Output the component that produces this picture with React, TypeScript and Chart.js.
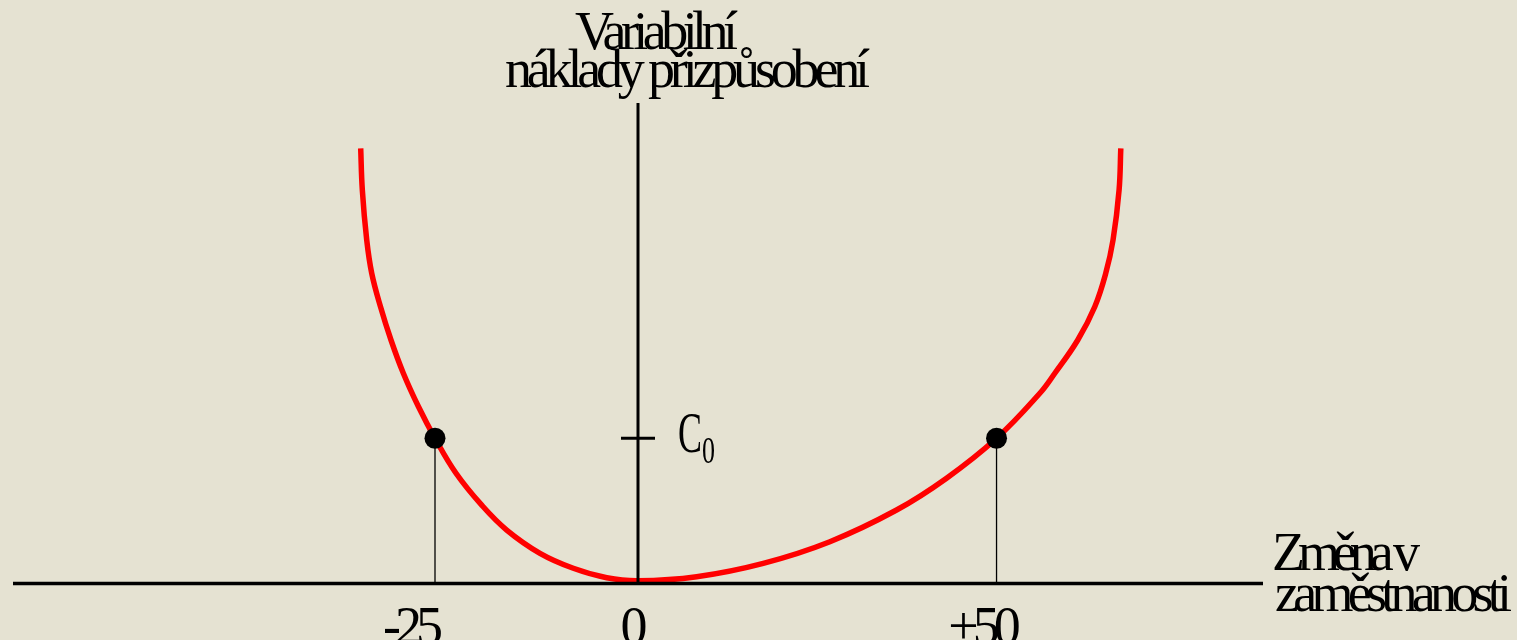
import React, { useEffect, useRef } from 'react';
import { Chart, registerables, LinearScale } from 'chart.js';

// ---- data (x: change in employment, y: variable adjustment costs, C0 = 1) ----
const leftBranchX = [-34.15, -33.95, -33.41, -32.79, -31.71, -30.42, -28.9, -27.03, -25, -22.41, -19.27, -16.17, -12.07, -7.97, -3.85, 0];
const leftBranchY = [2.997, 2.71, 2.366, 2.136, 1.906, 1.677, 1.448, 1.217, 1.0, 0.759, 0.541, 0.368, 0.208, 0.105, 0.04, 0.019];
const rightBranchX = [8.18, 17.47, 26.76, 36.06, 43.03, 50, 56.04, 58.13, 61.33, 63.7, 65.23, 66.25, 67.09, 67.33];
const rightBranchY = [0.047, 0.139, 0.288, 0.506, 0.725, 1.0, 1.31, 1.448, 1.677, 1.906, 2.136, 2.366, 2.71, 2.997];
const markerX = [-25, 50];
const markerY = [1, 1];
const xTickValues = [-25, 0, 50];
const xTickLabels = ['-25', '0', '+50'];
const yTickValue = 1;
const yTickLabel = 'C';
const yTickSub = '0';
const yTitleLines = ['Variabilní', 'náklady přizpůsobení'];
const xTitleLines = ['Změna v', 'zaměstnanosti'];
const xMin = -76.97;
const xMax = 87.16;
const yMin = 0;
const yMax = 3.309;

// Linear scale whose negative and positive halves have their own unit length
class SplitLinearScale extends LinearScale {
  static id = 'splitLinear';
  static defaults = LinearScale.defaults;
  getPixelForValue(value: any) {
    if (value === null || value === undefined || isNaN(value)) return NaN;
    const mid = (this.left + this.right) / 2;
    if (value < 0) return mid - (value / this.min) * (mid - this.left);
    return mid + (value / this.max) * (this.right - mid);
  }
  getValueForPixel(pixel: number) {
    const mid = (this.left + this.right) / 2;
    if (pixel < mid) return ((mid - pixel) / (mid - this.left)) * this.min;
    return ((pixel - mid) / (this.right - mid)) * this.max;
  }
}

Chart.register(...registerables, SplitLinearScale);

const BG = '#E5E2D2';
const SERIF = '"Liberation Serif", "DejaVu Serif", serif';

function drawFitted(ctx: CanvasRenderingContext2D, text: string, x: number, baseline: number, width: number, size: number) {
  ctx.save();
  ctx.font = `${size}px ${SERIF}`;
  (ctx as any).letterSpacing = '0px';
  const w0 = ctx.measureText(text).width;
  const n = Array.from(text).length;
  const s = n > 1 ? (width - w0) / (n - 1) : 0;
  (ctx as any).letterSpacing = `${s}px`;
  ctx.fillStyle = '#000';
  ctx.textAlign = 'left';
  ctx.textBaseline = 'alphabetic';
  ctx.fillText(text, x, baseline);
  ctx.restore();
}

function drawSqueezed(ctx: CanvasRenderingContext2D, text: string, x: number, baseline: number, width: number, size: number) {
  ctx.save();
  ctx.font = `${size}px ${SERIF}`;
  const w0 = ctx.measureText(text).width;
  ctx.translate(x, baseline);
  ctx.scale(width / w0, 1);
  ctx.fillStyle = '#000';
  ctx.textAlign = 'left';
  ctx.textBaseline = 'alphabetic';
  ctx.fillText(text, 0, 0);
  ctx.restore();
}

const backgroundPlugin = {
  id: 'bg',
  beforeDraw(chart: any) {
    const ctx = chart.ctx;
    ctx.save();
    ctx.fillStyle = BG;
    ctx.fillRect(0, 0, chart.width, chart.height);
    ctx.restore();
  },
};

const axesPlugin = {
  id: 'axesAndText',
  afterDatasetsDraw(chart: any) {
    const ctx: CanvasRenderingContext2D = chart.ctx;
    const xs = chart.scales.x;
    const ys = chart.scales.y;
    const x0 = xs.getPixelForValue(0);
    const y0 = ys.getPixelForValue(0);
    const area = chart.chartArea;
    ctx.save();
    ctx.strokeStyle = '#000';
    // x axis
    ctx.lineWidth = 3.5;
    ctx.beginPath();
    ctx.moveTo(area.left, y0);
    ctx.lineTo(area.right, y0);
    ctx.stroke();
    // y axis
    ctx.lineWidth = 3;
    ctx.beginPath();
    ctx.moveTo(x0, area.top);
    ctx.lineTo(x0, y0);
    ctx.stroke();
    // C0 tick
    const yc = ys.getPixelForValue(yTickValue);
    ctx.beginPath();
    ctx.moveTo(x0 - 17, yc);
    ctx.lineTo(x0 + 17, yc);
    ctx.stroke();
    ctx.restore();

    // C0 label
    drawSqueezed(ctx, yTickLabel, x0 + 40, yc + 14, 24, 58);
    drawSqueezed(ctx, yTickSub, x0 + 64, yc + 25, 13, 38);

    // x tick labels (centred slightly left of their tick)
    xTickValues.forEach((v, i) => {
      const px = xs.getPixelForValue(v);
      const label = xTickLabels[i];
      ctx.save();
      ctx.font = `54px ${SERIF}`;
      (ctx as any).letterSpacing = '0px';
      const w0 = ctx.measureText(label).width;
      const n = Array.from(label).length;
      const vis = w0 - 6 * (n - 1);
      (ctx as any).letterSpacing = '-6px';
      ctx.fillStyle = '#000';
      ctx.textBaseline = 'alphabetic';
      ctx.textAlign = 'left';
      const shift = v < 0 ? -22 : v > 0 ? -12 : -4;
      ctx.fillText(label, px + shift - vis / 2, y0 + 60);
      ctx.restore();
    });

    // y-axis title
    drawFitted(ctx, yTitleLines[0], x0 - 63, area.top - 54, 163, 54);
    drawFitted(ctx, yTitleLines[1], x0 - 133, area.top - 16, 365, 54);
    // x-axis title
    drawFitted(ctx, xTitleLines[0], area.right + 9, y0 - 13.5, 148, 54);
    drawFitted(ctx, xTitleLines[1], area.right + 12, y0 + 27, 237, 54);
  },
};

export default function App() {
  const canvasRef = useRef<HTMLCanvasElement | null>(null);

  useEffect(() => {
    const canvas = canvasRef.current;
    if (!canvas) return;
    const curve = [
      ...leftBranchX.map((x, i) => ({ x, y: leftBranchY[i] })),
      ...rightBranchX.map((x, i) => ({ x, y: rightBranchY[i] })),
    ];
    const markers = markerX.map((x, i) => ({ x, y: markerY[i] }));
    const dropDatasets = markerX.map((x, i) => ({
      data: [{ x, y: 0 }, { x, y: markerY[i] }],
      showLine: true,
      borderColor: '#000',
      borderWidth: 1.3,
      pointRadius: 0,
      clip: false as any,
    }));
    const chart = new Chart(canvas, {
      type: 'scatter',
      data: {
        datasets: [
          {
            data: markers,
            pointRadius: 10.5,
            pointBackgroundColor: '#000',
            pointBorderColor: '#000',
            pointBorderWidth: 0,
            showLine: false,
            clip: false as any,
          },
          {
            data: curve,
            showLine: true,
            borderColor: '#FF0000',
            borderWidth: 5.5,
            pointRadius: 0,
            tension: 0.4,
            borderCapStyle: 'butt',
            clip: false as any,
          },
          ...dropDatasets,
        ],
      },
      plugins: [backgroundPlugin, axesPlugin],
      options: {
        animation: false,
        responsive: false,
        events: [],
        layout: { padding: { left: 13, right: 254, top: 103, bottom: 56.5 } },
        plugins: { legend: { display: false }, tooltip: { enabled: false } },
        scales: {
          x: { type: 'splitLinear' as any, min: xMin, max: xMax, display: false },
          y: { type: 'linear', min: yMin, max: yMax, display: false },
        },
      } as any,
    });
    return () => chart.destroy();
  }, []);

  return (
    <div style={{ position: 'absolute', left: 0, top: 0, width: 1517, height: 640, background: BG }}>
      <canvas ref={canvasRef} width={1517} height={640} style={{ display: 'block', width: 1517, height: 640 }} />
    </div>
  );
}
